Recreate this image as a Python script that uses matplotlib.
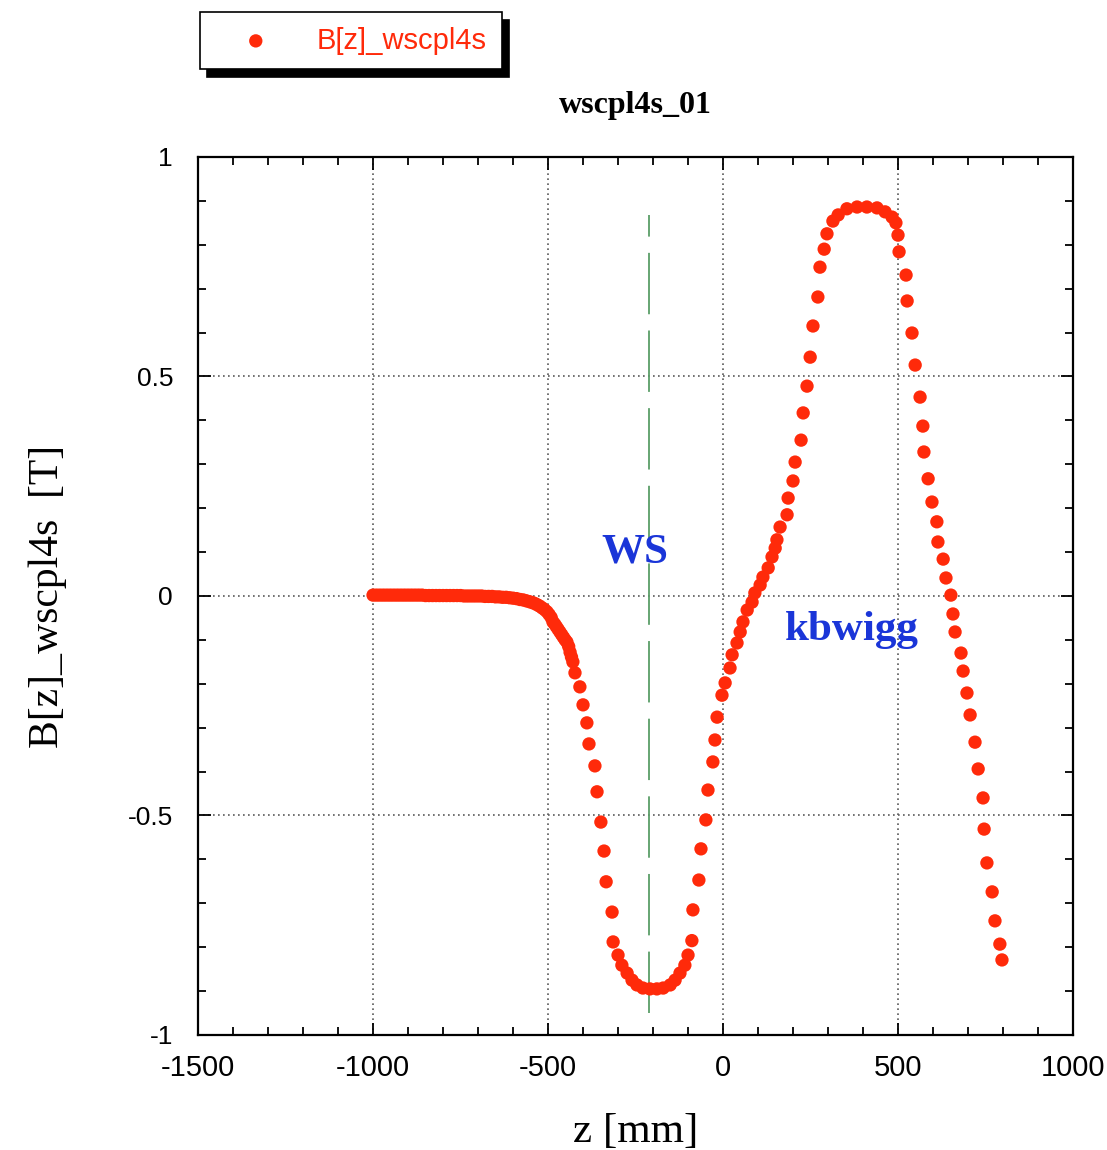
import matplotlib

matplotlib.use("Agg")
import matplotlib.pyplot as plt
from matplotlib.ticker import MultipleLocator

plt.rcParams["axes.unicode_minus"] = False

# field samples: z [mm], B [T]
z_mm = [
    -1000, -990, -980, -970, -960, -950, -940, -930, -920, -910,
    -900, -890, -880, -870, -860, -850, -840, -830, -820, -810,
    -800, -790, -780, -770, -760, -750, -740, -730, -720, -710,
    -700, -690, -680, -670, -660, -650, -640, -630, -620, -610,
    -600, -590, -580, -571, -562, -553, -545, -538, -531, -524,
    -517, -510, -503, -497, -491, -486, -481, -476, -471, -466,
    -461, -456, -451, -446, -441, -437, -433, -429, -423, -409,
    -400, -389, -383, -366, -360, -349, -340, -334, -317, -314,
    -300, -289, -274, -260, -246, -229, -209, -189, -171, -151,
    -137, -123, -109, -100, -89, -86, -69, -63, -49, -43,
    -29, -23, -17, -3, 6, 20, 26, 40, 49, 57,
    69, 83, 91, 106, 114, 129, 140, 149, 154, 163,
    183, 186, 200, 206, 223, 229, 240, 249, 257, 271,
    277, 289, 297, 314, 329, 354, 383, 411, 440, 463,
    483, 494, 500, 503, 523, 526, 540, 549, 563, 571,
    574, 586, 597, 611, 614, 629, 637, 651, 657, 663,
    680, 686, 697, 706, 720, 729, 743, 746, 754, 769,
    777, 791, 797,
]
b_tesla = [
    0.002, 0.002, 0.002, 0.002, 0.002, 0.002, 0.002, 0.002, 0.002, 0.002,
    0.002, 0.002, 0.002, 0.002, 0.002, 0.001, 0.001, 0.001, 0.001, 0.001,
    0.001, 0.001, 0.001, 0.001, 0.001, 0.001, 0.000, 0.000, 0.000, 0.000,
    0.000, 0.000, -0.001, -0.001, -0.001, -0.002, -0.002, -0.003, -0.003, -0.004,
    -0.005, -0.006, -0.008, -0.009, -0.011, -0.013, -0.015, -0.017, -0.020, -0.023,
    -0.027, -0.031, -0.036, -0.042, -0.049, -0.059, -0.064, -0.070, -0.076, -0.082,
    -0.088, -0.094, -0.100, -0.105, -0.115, -0.128, -0.139, -0.150, -0.175, -0.207,
    -0.248, -0.289, -0.337, -0.387, -0.446, -0.515, -0.581, -0.651, -0.720, -0.788,
    -0.818, -0.841, -0.859, -0.875, -0.886, -0.893, -0.895, -0.895, -0.893, -0.886,
    -0.875, -0.859, -0.841, -0.818, -0.785, -0.715, -0.647, -0.576, -0.510, -0.442,
    -0.378, -0.328, -0.276, -0.226, -0.198, -0.164, -0.134, -0.107, -0.082, -0.059,
    -0.032, -0.014, 0.007, 0.025, 0.043, 0.064, 0.089, 0.109, 0.128, 0.157,
    0.185, 0.223, 0.262, 0.305, 0.355, 0.417, 0.478, 0.544, 0.615, 0.681,
    0.749, 0.790, 0.825, 0.854, 0.868, 0.882, 0.886, 0.886, 0.884, 0.875,
    0.863, 0.850, 0.822, 0.784, 0.731, 0.672, 0.599, 0.526, 0.453, 0.387,
    0.328, 0.267, 0.214, 0.169, 0.123, 0.084, 0.041, 0.002, -0.041, -0.082,
    -0.130, -0.171, -0.221, -0.271, -0.333, -0.394, -0.460, -0.531, -0.608, -0.674,
    -0.740, -0.793, -0.829,
]

ws_z = -211                 # WS centre marker
ws_span = (-0.95, 0.868)
labels = [("WS", -251, 0.10), ("kbwigg", 369, -0.077)]

x_ticks = [-1500, -1000, -500, 0, 500, 1000]
y_ticks = [-1, -0.5, 0, 0.5, 1]
y_ticklabels = ["-1", "-0.5", "0", "0.5", "1"]

RED = "#ff2a0a"
BLUE = "#1a35d8"
SERIF = ["Liberation Serif", "DejaVu Serif"]
SANS = ["Liberation Sans", "DejaVu Sans"]

fig = plt.figure(figsize=(11.07, 11.5), dpi=100)
ax = fig.add_axes([0.1789, 0.1, 0.7904, 0.7635])

ax.scatter(z_mm, b_tesla, s=92, color=RED, edgecolors="none", zorder=3,
           label="B[z]_wscpl4s")
ax.vlines(ws_z, *ws_span, color="#5a9e68", lw=1.3,
          linestyles=[(0, (34, 9))], zorder=2)

for txt, x, y in labels:
    ax.text(x, y, txt, color=BLUE, fontsize=31, fontweight="bold",
            family=SERIF, ha="center", va="center", zorder=4)

ax.set_xlim(-1500, 1000)
ax.set_ylim(-1, 1)
ax.set_xticks(x_ticks)
ax.set_xticklabels([str(v) for v in x_ticks], family=SANS, fontsize=21)
ax.set_yticks(y_ticks)
ax.set_yticklabels(y_ticklabels, family=SANS, fontsize=19)
ax.xaxis.set_minor_locator(MultipleLocator(100))
ax.yaxis.set_minor_locator(MultipleLocator(0.1))
ax.tick_params(which="both", direction="in", top=True, right=True, width=1.3)
ax.tick_params(which="major", length=9)
ax.tick_params(which="minor", length=6)
ax.tick_params(axis="x", pad=14)
ax.tick_params(axis="y", pad=18)
for sp in ax.spines.values():
    sp.set_linewidth(1.6)

ax.grid(True, which="major", color="#5a5a5a", lw=1.2, linestyle=(0, (1, 2)))

ax.set_title("wscpl4s_01", family=SERIF, fontweight="bold", fontsize=23, pad=32)
ax.set_xlabel("z [mm]", family=SERIF, fontsize=31, labelpad=22)
ax.set_ylabel("B[z]_wscpl4s  [T]", family=SERIF, fontsize=30, labelpad=44)

leg = fig.legend(loc="upper left", bbox_to_anchor=(0.181, 0.9896),
                 frameon=True, fancybox=False, borderpad=0.5,
                 handlelength=2.8, handletextpad=0.7, borderaxespad=0,
                 shadow={"color": "black", "alpha": 1.0, "ox": 5, "oy": -6},
                 prop={"family": SANS, "size": 21})
leg.get_frame().set_edgecolor("black")
leg.get_frame().set_linewidth(1.2)
for t in leg.get_texts():
    t.set_color(RED)

fig.savefig("out.png", dpi=100)
